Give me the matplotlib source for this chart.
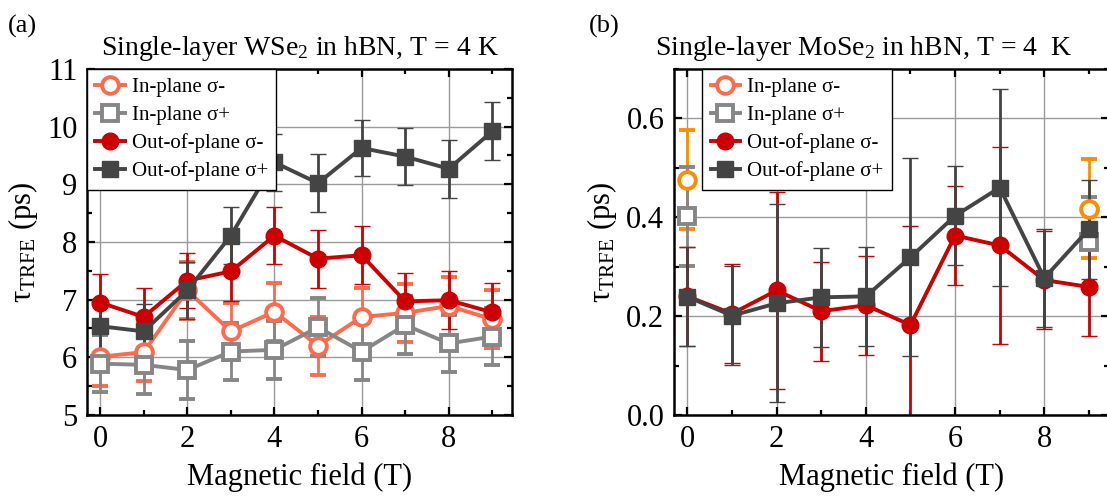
import numpy as np
from matplotlib import pyplot as plt
from matplotlib.lines import Line2D
from matplotlib.ticker import MultipleLocator

nan = np.nan

# magnetic field (T)
field = [0, 1, 2, 3, 4, 5, 6, 7, 8, 9]

# single-layer WSe2, tau_TRFE in ps
wse2_in_minus = [6.01, 6.09, 7.16, 6.45, 6.79, 6.20, 6.70, 6.77, 6.89, 6.66]
wse2_in_minus_err = [0.50, 0.50, 0.50, 0.50, 0.50, 0.50, 0.50, 0.50, 0.50, 0.50]
wse2_in_plus = [5.89, 5.87, 5.78, 6.10, 6.13, 6.52, 6.10, 6.56, 6.24, 6.36]
wse2_in_plus_err = [0.49, 0.50, 0.50, 0.50, 0.50, 0.50, 0.50, 0.50, 0.49, 0.49]
wse2_out_minus = [6.95, 6.70, 7.33, 7.49, 8.11, 7.71, 7.77, 6.97, 6.99, 6.78]
wse2_out_minus_err = [0.50, 0.50, 0.48, 0.52, 0.50, 0.50, 0.50, 0.50, 0.50, 0.50]
wse2_out_plus = [6.54, 6.45, 7.16, 8.11, 9.38, 9.02, 9.63, 9.48, 9.27, 9.92]
wse2_out_plus_err = [0.45, 0.48, 0.50, 0.50, 0.50, 0.50, 0.49, 0.50, 0.50, 0.50]

# single-layer MoSe2, tau_TRFE in ps (in-plane only measured at 0 T and 9 T)
mose2_in_minus = [0.476, nan, nan, nan, nan, nan, nan, nan, nan, 0.417]
mose2_in_minus_err = [0.10, nan, nan, nan, nan, nan, nan, nan, nan, 0.10]
mose2_in_plus = [0.402, nan, nan, nan, nan, nan, nan, nan, nan, 0.350]
mose2_in_plus_err = [0.10, nan, nan, nan, nan, nan, nan, nan, nan, 0.09]
mose2_out_minus = [0.240, 0.205, 0.252, 0.210, 0.222, 0.182, 0.363, 0.343, 0.273, 0.259]
mose2_out_minus_err = [0.10, 0.10, 0.20, 0.10, 0.10, 0.20, 0.10, 0.20, 0.10, 0.10]
mose2_out_plus = [0.239, 0.201, 0.226, 0.238, 0.240, 0.319, 0.403, 0.460, 0.277, 0.376]
mose2_out_plus_err = [0.10, 0.10, 0.20, 0.10, 0.10, 0.20, 0.10, 0.20, 0.10, 0.10]

labels = ["In-plane σ-", "In-plane σ+", "Out-of-plane σ-", "Out-of-plane σ+"]

CORAL = "#FF6A4A"
ORANGE = "#FF8C00"
GRAY = "#868686"
RED = "#CC0000"
DARK = "#444444"

plt.rcParams["font.family"] = ["Liberation Serif", "DejaVu Serif"]
plt.rcParams["mathtext.fontset"] = "custom"
plt.rcParams["mathtext.rm"] = "Liberation Serif"
plt.rcParams["mathtext.it"] = "Liberation Serif:italic"


def style(color, marker, opened):
    return dict(color=color, marker=marker, ms=12 if marker == "o" else 11,
                mfc="white" if opened else color, mec=color,
                mew=2.8 if opened else 1, lw=2.8)


STYLES = [style(CORAL, "o", True), style(GRAY, "s", True),
          style(RED, "o", False), style(DARK, "s", False)]


def draw_series(ax, y, err, st, ecolor=None):
    ax.errorbar(field, y, yerr=err, ecolor=ecolor or st["color"],
                elinewidth=2, capsize=5.5, capthick=2.2, **st)


def setup_axes(ax, ylim, ymajor, yminor, ytick_fmt):
    ax.set_xlim(-0.3, 9.45)
    ax.set_ylim(*ylim)
    ax.xaxis.set_major_locator(MultipleLocator(2))
    ax.xaxis.set_minor_locator(MultipleLocator(1))
    ax.yaxis.set_major_locator(MultipleLocator(ymajor))
    ax.yaxis.set_minor_locator(MultipleLocator(yminor))
    ax.yaxis.set_major_formatter(ytick_fmt)
    ax.grid(True, which="major", color="#9a9a9a", lw=1)
    ax.set_axisbelow(True)
    ax.tick_params(which="both", direction="in", top=True, right=True,
                   labelsize=22, width=1.6)
    ax.tick_params(which="major", length=6, pad=7)
    ax.tick_params(which="minor", length=3.5)
    for s in ax.spines.values():
        s.set_linewidth(1.8)
    ax.set_xlabel("Magnetic field (T)", fontsize=22, labelpad=6)
    ax.set_ylabel(r"τ$_{\mathrm{TRFE}}$ (ps)", fontsize=22, labelpad=5)


def add_legend(ax, x0):
    handles = [Line2D([], [], **st) for st in STYLES]
    leg = ax.legend(handles, labels, loc="upper left", bbox_to_anchor=(x0, 1.0),
                    borderaxespad=0, fontsize=15, handlelength=1.4,
                    handletextpad=0.35, labelspacing=0.4, borderpad=0.4,
                    fancybox=False, framealpha=1, edgecolor="black")
    leg.get_frame().set_linewidth(1)
    leg.set_zorder(5)


def main():
    fig = plt.figure(figsize=(11.07, 4.98), dpi=100)
    ax_a = fig.add_axes([0.0786, 0.1667, 0.3839, 0.6948])
    ax_b = fig.add_axes([0.6089, 0.1667, 0.3929, 0.6948])

    # (a) WSe2
    for y, err, st in zip([wse2_in_minus, wse2_in_plus, wse2_out_minus, wse2_out_plus],
                          [wse2_in_minus_err, wse2_in_plus_err,
                           wse2_out_minus_err, wse2_out_plus_err], STYLES):
        draw_series(ax_a, y, err, st)
    setup_axes(ax_a, (5, 11), 1, 0.5, "{x:.0f}")
    add_legend(ax_a, 0.0)
    ax_a.set_title("Single-layer WSe$_2$ in hBN, T = 4 K", fontsize=20, pad=10)

    # (b) MoSe2, in-plane sigma- drawn in orange
    st_orange = dict(STYLES[0], color=ORANGE, mec=ORANGE)
    draw_series(ax_b, mose2_in_minus, mose2_in_minus_err, st_orange)
    draw_series(ax_b, mose2_in_plus, mose2_in_plus_err, STYLES[1])
    draw_series(ax_b, mose2_out_minus, mose2_out_minus_err, STYLES[2])
    draw_series(ax_b, mose2_out_plus, mose2_out_plus_err, STYLES[3])
    setup_axes(ax_b, (0, 0.7), 0.2, 0.1, "{x:.1f}")
    add_legend(ax_b, 0.065)
    ax_b.set_title("Single-layer MoSe$_2$ in hBN, T = 4  K", fontsize=20, pad=10,
                   x=0.435)

    fig.text(0.007, 0.935, "(a)", fontsize=19)
    fig.text(0.532, 0.935, "(b)", fontsize=19)

    fig.savefig("out.png", dpi=100)


if __name__ == "__main__":
    main()
